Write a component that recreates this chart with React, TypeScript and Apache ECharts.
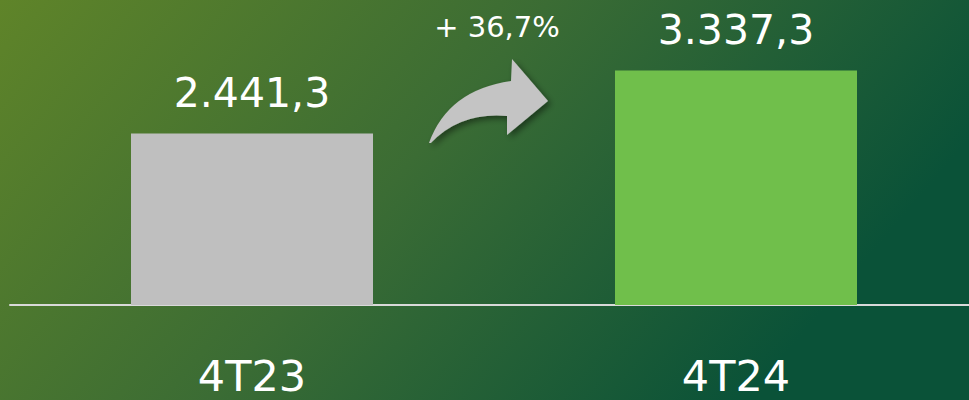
import React, { useEffect, useRef } from "react";
import * as echarts from "echarts";

const categories = ["4T23", "4T24"];
const values = [2441.3, 3337.3];
const barColors = ["#bfbfbf", "#70bf4b"];
const growthLabel = "+ 36,7%";

const ARROW_D =
  "M429,143 Q448,90 511,81 L512,59 L548,101 L507,135 L507,116 Q460,112 431,143 Z";

function fmt(v: number): string {
  const [i, d] = v.toFixed(1).split(".");
  const withDots = i.replace(/\B(?=(\d{3})+(?!\d))/g, ".");
  return withDots + "," + d;
}

let registered = false;

export default function App() {
  const ref = useRef<HTMLDivElement>(null);
  useEffect(() => {
    if (!ref.current) return;
    if (!registered) {
      echarts.graphic.registerShape("arrowShape", echarts.graphic.extendPath(ARROW_D, {}));
      registered = true;
    }
    const chart = echarts.init(ref.current, null, { renderer: "svg" });
    chart.setOption({
      animation: false,
      backgroundColor: new echarts.graphic.LinearGradient(0, 0, 1, 0.35, [
        { offset: 0, color: "#5f8429" },
        { offset: 0.5, color: "#3b6c34" },
        { offset: 0.99, color: "#0a5238" },
        { offset: 1, color: "#0a5238" },
      ]),
      grid: { left: 10, top: 0, right: 2, height: 305 },
      xAxis: {
        type: "category",
        data: categories,
        axisLine: { show: true, lineStyle: { color: "#d9d9d9", width: 2 } },
        axisTick: { show: false },
        axisLabel: {
          color: "#ffffff",
          fontFamily: "DejaVu Sans",
          fontSize: 43,
          lineHeight: 40,
          margin: 51,
        },
      },
      yAxis: {
        type: "value",
        min: 0,
        max: 4340,
        show: false,
        splitLine: { show: false },
      },
      series: [
        {
          type: "bar",
          barWidth: "50%",
          data: values.map((v, i) => ({ value: v, itemStyle: { color: barColors[i] } })),
          label: {
            show: true,
            position: "top",
            distance: 20,
            color: "#ffffff",
            fontFamily: "DejaVu Sans",
            fontSize: 41,
            formatter: (p: any) => fmt(p.value),
          },
        },
      ],
      graphic: [
        {
          type: "arrowShape",
          x: 0,
          y: 0,
          style: {
            fill: "#c4c4c4",
            shadowBlur: 6,
            shadowOffsetX: 3,
            shadowOffsetY: 3,
            shadowColor: "rgba(0,0,0,0.45)",
          },
        },
        {
          type: "text",
          x: 497,
          y: 27,
          style: {
            text: growthLabel,
            fill: "#ffffff",
            font: "29px 'DejaVu Sans'",
            textAlign: "center",
            textVerticalAlign: "middle",
          },
        },
      ],
    });
    return () => chart.dispose();
  }, []);
  return (
    <div
      style={{
        position: "fixed",
        left: 0,
        top: 0,
        width: 969,
        height: 400,
        overflow: "hidden",
        background: "#0a5238",
      }}
    >
      <div ref={ref} style={{ width: 980, height: 400 }} />
    </div>
  );
}
